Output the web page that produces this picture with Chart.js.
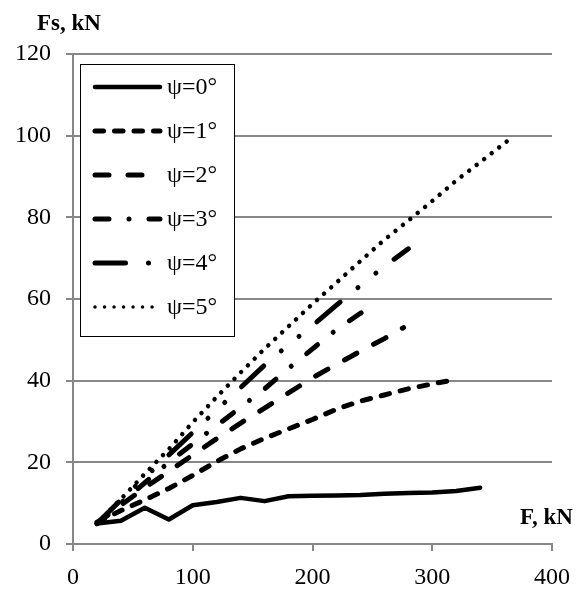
<!DOCTYPE html>
<html>
<head>
<meta charset="utf-8">
<script src="https://cdn.jsdelivr.net/npm/chart.js@4.4.1/dist/chart.umd.min.js"></script>
<style>
  html, body { margin: 0; padding: 0; background: #fff; }
  canvas { display: block; }
</style>
</head>
<body>
<canvas id="chart" width="582" height="599"></canvas>
<script>
// values: F (kN) vs Fs (kN) per angle psi
const seriesLabels = ["ψ=0°", "ψ=1°", "ψ=2°", "ψ=3°", "ψ=4°", "ψ=5°"];

const loads0 = [20, 40, 60, 80, 100, 120, 140, 160, 180, 200, 220, 240, 260, 280, 300, 320, 340];
const shear0 = [5, 5.7, 8.9, 6, 9.5, 10.3, 11.3, 10.5, 11.7, 11.8, 11.9, 12, 12.3, 12.5, 12.6, 13, 13.8];

const loads1 = [20, 40, 60, 80, 100, 120, 140, 160, 180, 200, 220, 240, 260, 280, 300, 320];
const shear1 = [5.3, 8.2, 10.8, 13.6, 16.8, 20.2, 23.3, 25.9, 28.2, 30.5, 33, 35, 36.5, 38, 39.2, 40.3];

const loads2 = [20, 40, 60, 80, 100, 120, 140, 160, 180, 200, 220, 240, 260, 276];
const shear2 = [5, 9.5, 13.8, 17.8, 21.8, 25.8, 29.6, 33.3, 37, 40.7, 44, 47.2, 50.3, 53];

const loads3 = [20, 40, 60, 80, 100, 120, 140, 160, 180, 200, 220, 240, 248];
const shear3 = [5, 10, 15, 20, 24.5, 29, 33.5, 38, 43, 47.8, 52.5, 56.5, 58];

const loads4 = [20, 40, 60, 80, 100, 120, 140, 160, 180, 200, 220, 240, 260, 280];
const shear4 = [5, 10.8, 16.3, 21.8, 27.3, 32.8, 38.3, 43.8, 48.8, 53.5, 58.5, 63.3, 68, 72.3];

const loads5 = [20, 40, 60, 80, 100, 120, 140, 160, 180, 200, 220, 240, 260, 280, 300, 320, 340, 364];
const shear5 = [5, 11, 17.2, 23.2, 29.8, 36, 42, 47.8, 53.3, 58.8, 64, 69.3, 74.5, 79.2, 84, 89, 93.5, 99];

const xTicks = [0, 100, 200, 300, 400];
const yTicks = [0, 20, 40, 60, 80, 100, 120];

const GRID = "#878787";
const FONT = "'Liberation Serif', 'Times New Roman', serif";

function pts(xs, ys) {
  return xs.map((x, i) => ({ x: x, y: ys[i] }));
}

const styles = [
  { dash: [], width: 4.5 },
  { dash: [8.5, 11], width: 5 },
  { dash: [14, 19], width: 5 },
  { dash: [14, 20, 0.01, 20], width: 5 },
  { dash: [30.5, 23, 0.01, 23, 0.01, 23], width: 5 },
  { dash: [0.01, 9.5], width: 4.5 }
];

const allData = [
  pts(loads0, shear0), pts(loads1, shear1), pts(loads2, shear2),
  pts(loads3, shear3), pts(loads4, shear4), pts(loads5, shear5)
];

const datasets = allData.map((d, i) => ({
  label: seriesLabels[i],
  data: d,
  borderColor: "#000",
  borderWidth: styles[i].width,
  borderDash: styles[i].dash,
  borderCapStyle: "round",
  borderJoinStyle: "round",
  pointRadius: 0,
  tension: 0,
  fill: false
}));

// legend box drawn inside the plot, top-left
const boxLegend = {
  id: "boxLegend",
  afterDraw(chart) {
    const ctx = chart.ctx;
    ctx.save();
    ctx.fillStyle = "#fff";
    ctx.fillRect(81, 64, 153, 272);
    ctx.strokeStyle = "#000";
    ctx.lineWidth = 1;
    ctx.strokeRect(80.5, 64.5, 154, 272);
    chart.data.datasets.forEach((ds, i) => {
      const y = 87 + i * 44;
      ctx.beginPath();
      ctx.strokeStyle = "#000";
      ctx.lineWidth = i == 5 ? 3.5 : ds.borderWidth;
      ctx.lineCap = "round";
      ctx.setLineDash(ds.borderDash);
      ctx.moveTo(95, y);
      ctx.lineTo(160, y);
      ctx.stroke();
      ctx.setLineDash([]);
      ctx.fillStyle = "#000";
      ctx.font = "24px " + FONT;
      ctx.textBaseline = "middle";
      ctx.textAlign = "left";
      ctx.fillText(ds.label, 167, y + 1);
    });
    // axis names
    ctx.font = "bold 23px " + FONT;
    ctx.textBaseline = "alphabetic";
    ctx.fillText("Fs, kN", 37, 30);
    ctx.fillText("F, kN", 520, 524);
    ctx.restore();
  }
};

new Chart(document.getElementById("chart"), {
  type: "line",
  data: { datasets: datasets },
  options: {
    responsive: false,
    animation: false,
    devicePixelRatio: 1,
    layout: { padding: { top: 54, right: 27, left: 0, bottom: 0 } },
    plugins: { legend: { display: false }, tooltip: { enabled: false } },
    scales: {
      x: {
        type: "linear",
        min: 0,
        max: 400,
        afterBuildTicks: (s) => { s.ticks = xTicks.map(v => ({ value: v })); },
        afterFit: (s) => { s.height = 55; },
        border: { color: GRID, width: 2 },
        grid: { drawOnChartArea: false, drawTicks: true, tickLength: 7, color: GRID, lineWidth: 2 },
        ticks: { color: "#000", font: { family: FONT, size: 24 }, padding: 12, maxRotation: 0 }
      },
      y: {
        min: 0,
        max: 120,
        afterBuildTicks: (s) => { s.ticks = yTicks.map(v => ({ value: v })); },
        afterFit: (s) => { s.width = 73; },
        border: { color: GRID, width: 2 },
        grid: { drawTicks: true, tickLength: 7, color: GRID, lineWidth: 2 },
        ticks: { color: "#000", font: { family: FONT, size: 24 }, padding: 15 }
      }
    }
  },
  plugins: [boxLegend]
});
</script>
</body>
</html>
